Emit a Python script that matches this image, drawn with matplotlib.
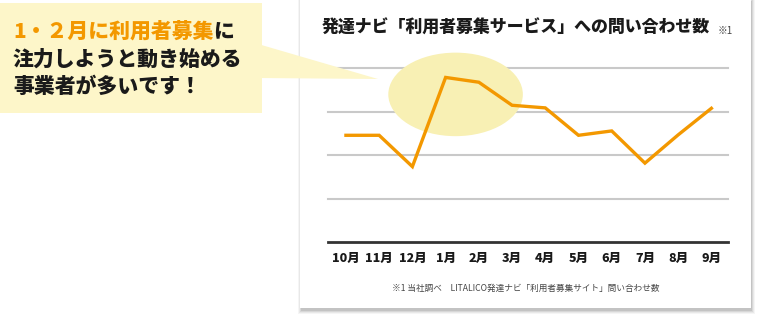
import matplotlib
matplotlib.use("Agg")
import matplotlib.pyplot as plt
from matplotlib.patches import Rectangle, Ellipse, Polygon

plt.rcParams['font.family'] = ['Noto Sans CJK JP', 'DejaVu Sans']

# data (relative inquiry counts)
months = ["10月", "11月", "12月", "1月", "2月", "3月", "4月", "5月", "6月", "7月", "8月", "9月"]
inquiries = [246, 246, 174, 379, 368, 315, 309, 246, 256, 182, 247, 308]
grid_levels = [100, 200, 300, 400]

title = "発達ナビ「利用者募集サービス」への問い合わせ数"
note = "※1 当社調べ　LITALICO発達ナビ「利用者募集サイト」問い合わせ数"
callout_hl = "1・２月に利用者募集"
callout_rest = ["に", "注力しようと動き始める", "事業者が多いです！"]

ORANGE = "#f39800"
YELLOW = "#fdf6c9"

W, H = 759, 320
fig = plt.figure(figsize=(W / 100, H / 100), dpi=100)
fig.patch.set_facecolor("white")

def fx(px):
    return px / W

def fy(py):
    return 1 - py / H

# card with soft shadow
for i, a in enumerate([0.04, 0.05, 0.07, 0.09]):
    d = 4 - i
    fig.patches.append(Rectangle((fx(300 - d + 2), fy(308 + d + 2)), fx(451 + 2 * d - 2), (308 + 2 * d) / H,
                                 transform=fig.transFigure, facecolor="black", alpha=a,
                                 edgecolor="none", zorder=0))
fig.patches.append(Rectangle((fx(300), fy(308)), fx(451), 310 / H, transform=fig.transFigure,
                             facecolor="white", edgecolor="none", zorder=1))

# chart axes: baseline at y=242px, top gridline at y=68px
ax = fig.add_axes([fx(328), fy(242.3), fx(400), (242.3 - 68.3) / H])
ax.set_facecolor("none")
ax.set_zorder(2)
x = list(range(len(months)))
ax.set_xlim(-0.54, 11.5)
ax.set_ylim(0, 400)

for g in grid_levels:
    ax.axhline(g, color="#c9c9c9", lw=1.5, zorder=1, clip_on=False)
ax.axhline(0, color="#333333", lw=2, zorder=1, clip_on=False)

# highlight ellipse around Jan/Feb
ax.add_patch(Ellipse((3.3, 340), 4.05, 192, facecolor="#f8f0b4", edgecolor="none",
                     zorder=2, clip_on=False))

ax.plot(x, inquiries, color=ORANGE, lw=2.4, solid_joinstyle="miter", zorder=3, clip_on=False)

ax.set_xticks(x)
ax.set_xticklabels(months, fontsize=9, fontweight="heavy", color="#1a1a1a")
ax.tick_params(axis="x", length=0, pad=7)
ax.set_yticks([])
for s in ax.spines.values():
    s.set_visible(False)

# title and footnote
fig.text(fx(516), fy(28), title, fontsize=12.2, fontweight="heavy", ha="center", va="center",
         color="#1a1a1a", zorder=5)
fig.text(fx(718), fy(31), "※1", fontsize=7, color="#444444", ha="left", va="center", zorder=5)
fig.text(fx(526), fy(288), note, fontsize=6.2, color="#444444", ha="center", va="center", zorder=5)

# callout box and pointer
fig.patches.append(Rectangle((0, fy(113)), fx(262), 110 / H, transform=fig.transFigure,
                             facecolor=YELLOW, edgecolor="none", zorder=6))
fig.patches.append(Polygon([(fx(258), fy(44)), (fx(378), fy(79)), (fx(258), fy(78))],
                           closed=True, transform=fig.transFigure, facecolor=YELLOW,
                           edgecolor="none", zorder=6))

fs = 15
hl = fig.text(fx(13), fy(31), callout_hl, fontsize=fs, fontweight="heavy", color=ORANGE,
              ha="left", va="center", zorder=7)
fig.canvas.draw()
bb = hl.get_window_extent()
fig.text(bb.x1 / W, fy(31), callout_rest[0], fontsize=fs, fontweight="heavy", color="#1a1a1a",
         ha="left", va="center", zorder=7)
fig.text(fx(13), fy(59), callout_rest[1], fontsize=fs, fontweight="heavy", color="#1a1a1a",
         ha="left", va="center", zorder=7)
fig.text(fx(13), fy(87), callout_rest[2], fontsize=fs, fontweight="heavy", color="#1a1a1a",
         ha="left", va="center", zorder=7)

fig.savefig("out.png", dpi=100)
